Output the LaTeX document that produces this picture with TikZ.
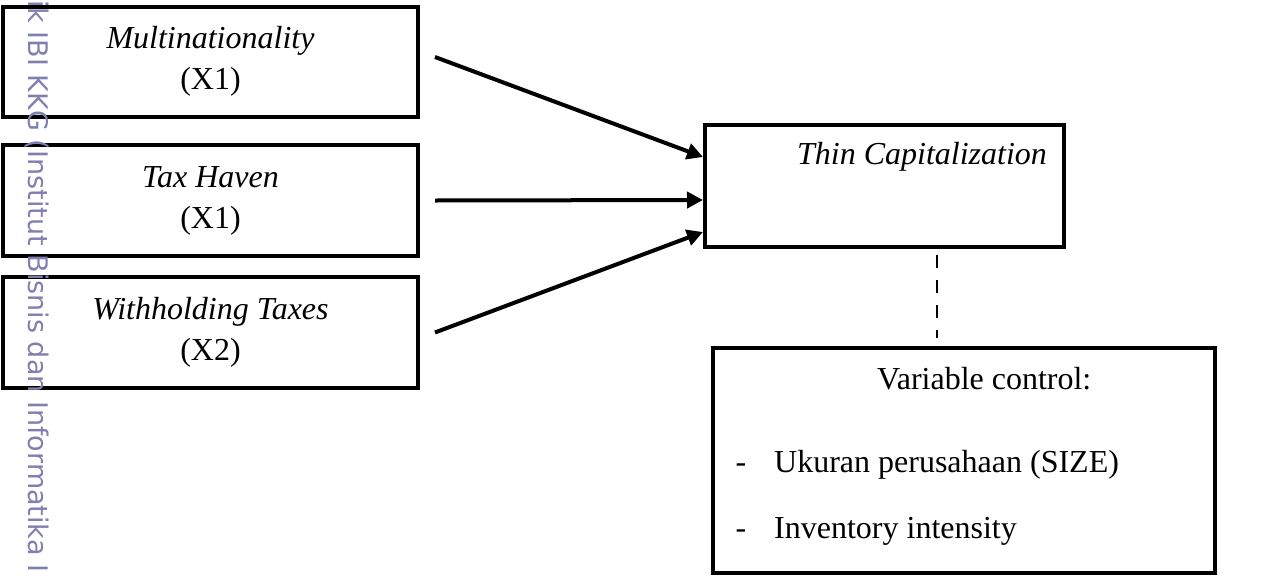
\documentclass[tikz,border=0pt]{standalone}
\usepackage{fontspec}
\setmainfont{Liberation Serif}
\newfontfamily\wmfont{DejaVu Sans}
\usetikzlibrary{arrows.meta}
\definecolor{wmcol}{RGB}{128,128,176}
\begin{document}
\begin{tikzpicture}[x=1pt,y=-1pt,
  box/.style={draw, line width=4pt, minimum width=415pt, minimum height=110pt, inner sep=0pt, align=center},
  lbl/.style={font=\fontsize{32}{41}\selectfont},
  arr/.style={line width=4pt, -{Triangle[length=16pt,width=16pt]}},
  dline/.style={line width=2pt, dash pattern=on 13pt off 12pt}]
\useasboundingbox (0,0) rectangle (1264,576);
\fill[white] (0,0) rectangle (1264,576);
\node[box, lbl] (b1) at (210.5,61.5) {\textit{Multinationality}\\(X1)};
\node[box, lbl, minimum height=111pt] (b2) at (210.5,200.5) {\textit{Tax Haven}\\(X1)};
\node[box, lbl, minimum height=111pt] (b3) at (210.5,332.5) {\textit{Withholding Taxes}\\(X2)};
\node[box, minimum width=359pt, minimum height=122pt] (thin) at (884.5,186) {};
\node[lbl, font=\fontsize{32}{41}\selectfont\itshape] (thint) at (922,157) {Thin Capitalization};
\node[box, minimum width=502pt, minimum height=225pt] (var) at (964,460.5) {};
\node[lbl, anchor=west, inner sep=0pt] (vc) at (877,379) {Variable control:};
\coordinate (hx) at (741,0);
\node[lbl, anchor=west, inner sep=0pt] (t1) at (774,465) {Ukuran perusahaan (SIZE)};
\node[lbl, anchor=base, inner sep=0pt] (m1) at (t1.base -| hx) {-};
\node[lbl, anchor=west, inner sep=0pt] (t2) at (774,531) {Inventory intensity};
\node[lbl, anchor=base, inner sep=0pt] (m2) at (t2.base -| hx) {-};
\draw[arr] ([xshift=15pt,yshift=4.5pt]b1.east) -- ([yshift=29pt]thin.west);
\draw[arr] ([xshift=15pt]b2.east) -- ([yshift=-14pt]thin.west);
\draw[arr] ([xshift=15pt]b3.east) -- ([yshift=-46pt]thin.west);
\draw[dline] ([xshift=52.5pt,yshift=-6pt]thin.south) -- ([xshift=-27pt,yshift=8pt]var.north);
\node[font=\wmfont\fontsize{27}{27}\selectfont, text=wmcol, rotate=-90, anchor=base west, inner sep=0pt] (wm) at (28,0) {ik IBI KKG (Institut Bisnis dan Informatika I};
\end{tikzpicture}
\end{document}
